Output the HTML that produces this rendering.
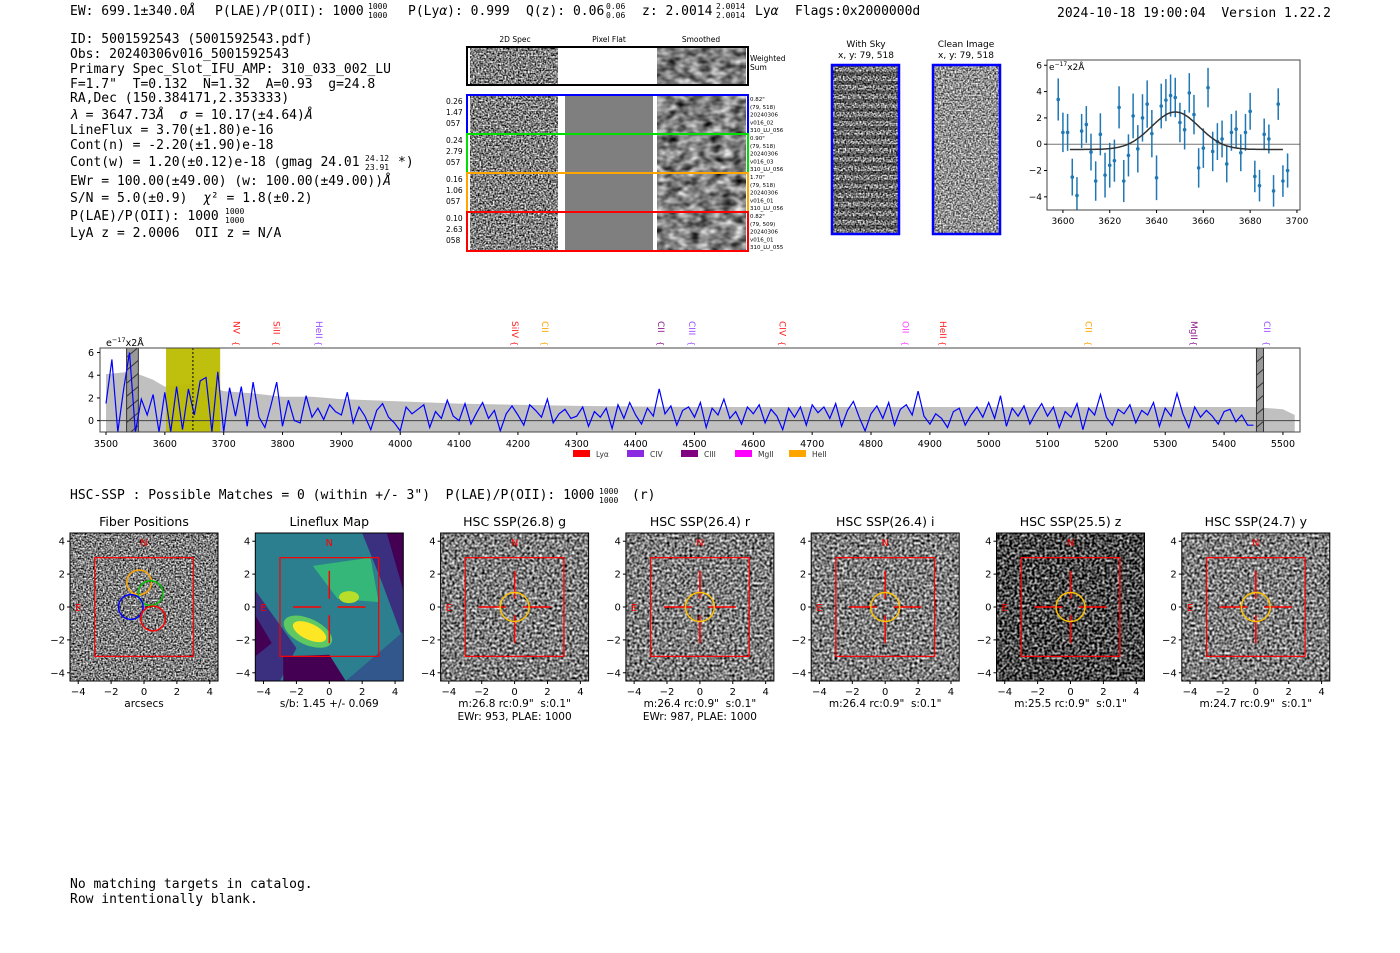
<!DOCTYPE html>
<html><head><meta charset="utf-8">
<style>
html,body{margin:0;padding:0;background:#fff;}
svg{display:block;}
.mono{font-family:"DejaVu Sans Mono","Liberation Mono",monospace;white-space:pre;}
.sans{font-family:"DejaVu Sans","Liberation Sans",sans-serif;}
</style></head>
<body>
<svg id="fig" width="1400" height="953" viewBox="0 0 1400 953" xmlns="http://www.w3.org/2000/svg">
<defs>
 <filter id="noise" x="0" y="0" width="100%" height="100%" color-interpolation-filters="sRGB">
  <feTurbulence type="fractalNoise" baseFrequency="0.6" numOctaves="1" seed="4"/>
  <feColorMatrix type="saturate" values="0"/>
  <feComponentTransfer><feFuncR type="linear" slope="2.6" intercept="-0.8"/><feFuncG type="linear" slope="2.6" intercept="-0.8"/><feFuncB type="linear" slope="2.6" intercept="-0.8"/><feFuncA type="linear" slope="0" intercept="1"/></feComponentTransfer>
 </filter>
 <filter id="noiseDark" x="0" y="0" width="100%" height="100%" color-interpolation-filters="sRGB">
  <feTurbulence type="fractalNoise" baseFrequency="0.4" numOctaves="1" seed="9"/>
  <feColorMatrix type="saturate" values="0"/>
  <feComponentTransfer><feFuncR type="linear" slope="2.5" intercept="-0.95"/><feFuncG type="linear" slope="2.5" intercept="-0.95"/><feFuncB type="linear" slope="2.5" intercept="-0.95"/><feFuncA type="linear" slope="0" intercept="1"/></feComponentTransfer>
 </filter>
 <filter id="noisePix" x="0" y="0" width="100%" height="100%" color-interpolation-filters="sRGB">
  <feTurbulence type="fractalNoise" baseFrequency="0.4" numOctaves="1" seed="2"/>
  <feColorMatrix type="saturate" values="0"/>
  <feComponentTransfer><feFuncR type="linear" slope="2.2" intercept="-0.6"/><feFuncG type="linear" slope="2.2" intercept="-0.6"/><feFuncB type="linear" slope="2.2" intercept="-0.6"/><feFuncA type="linear" slope="0" intercept="1"/></feComponentTransfer>
 </filter>
 <filter id="smooth" x="0" y="0" width="100%" height="100%" color-interpolation-filters="sRGB">
  <feTurbulence type="fractalNoise" baseFrequency="0.09 0.14" numOctaves="2" seed="7"/>
  <feColorMatrix type="saturate" values="0"/>
  <feComponentTransfer><feFuncR type="linear" slope="1.6" intercept="-0.3"/><feFuncG type="linear" slope="1.6" intercept="-0.3"/><feFuncB type="linear" slope="1.6" intercept="-0.3"/><feFuncA type="linear" slope="0" intercept="1"/></feComponentTransfer>
 </filter>
 <pattern id="hatch" width="10" height="10" patternUnits="userSpaceOnUse" patternTransform="rotate(-40)">
  <rect width="10" height="10" fill="#999"/><line x1="0" y1="5" x2="10" y2="5" stroke="#333" stroke-width="1"/>
 </pattern>
 <pattern id="stripes" width="8" height="9" patternUnits="userSpaceOnUse">
  <rect width="8" height="4" fill="#000" opacity="0.35"/>
 </pattern>
</defs>

<!-- header -->
<g class="mono" font-size="13">
 <text x="70" y="15">EW: 699.1±340.0<tspan font-style="italic">Å</tspan></text>
 <text x="215" y="15">P(LAE)/P(OII): 1000</text>
 <text x="368" y="9" font-size="8">1000</text><text x="368" y="18" font-size="8">1000</text>
 <text x="408" y="15">P(Ly<tspan font-style="italic">α</tspan>): 0.999</text>
 <text x="526" y="15">Q(z): 0.06</text>
 <text x="606" y="9" font-size="8">0.06</text><text x="606" y="18" font-size="8">0.06</text>
 <text x="642" y="15">z: 2.0014</text>
 <text x="716" y="9" font-size="8">2.0014</text><text x="716" y="18" font-size="8">2.0014</text>
 <text x="755" y="15">Ly<tspan font-style="italic">α</tspan></text>
 <text x="795" y="15">Flags:0x2000000d</text>
 <text x="1057" y="17">2024-10-18 19:00:04&#160; Version 1.22.2</text>
</g>

<!-- info block -->
<g class="mono" font-size="13">
 <text x="70" y="43">ID: 5001592543 (5001592543.pdf)</text>
 <text x="70" y="58">Obs: 20240306v016_5001592543</text>
 <text x="70" y="73">Primary Spec_Slot_IFU_AMP: 310_033_002_LU</text>
 <text x="70" y="88">F=1.7"&#160; T=0.132&#160; N=1.32&#160; A=0.93&#160; g=24.8</text>
 <text x="70" y="102">RA,Dec (150.384171,2.353333)</text>
 <text x="70" y="119"><tspan font-style="italic">λ</tspan> = 3647.73<tspan font-style="italic">Å</tspan>&#160; <tspan font-style="italic">σ</tspan> = 10.17(±4.64)<tspan font-style="italic">Å</tspan></text>
 <text x="70" y="134">LineFlux = 3.70(±1.80)e-16</text>
 <text x="70" y="149">Cont(n) = -2.20(±1.90)e-18</text>
 <text x="70" y="166">Cont(w) = 1.20(±0.12)e-18 (gmag 24.01</text>
 <text x="365" y="161" font-size="8">24.12</text><text x="365" y="170" font-size="8">23.91</text>
 <text x="398" y="166">*)</text>
 <text x="70" y="185">EWr = 100.00(±49.00) (w: 100.00(±49.00))<tspan font-style="italic">Å</tspan></text>
 <text x="70" y="202">S/N = 5.0(±0.9)&#160; <tspan font-style="italic">χ</tspan>² = 1.8(±0.2)</text>
 <text x="70" y="220">P(LAE)/P(OII): 1000</text>
 <text x="225" y="214" font-size="8">1000</text><text x="225" y="223" font-size="8">1000</text>
 <text x="70" y="237">LyA z = 2.0006&#160; OII z = N/A</text>
</g>

<!-- 2D spectra cutouts -->
<g class="sans">
 <text x="515" y="42" font-size="7.5" text-anchor="middle">2D Spec</text>
 <text x="609" y="42" font-size="7.5" text-anchor="middle">Pixel Flat</text>
 <text x="701" y="42" font-size="7.5" text-anchor="middle">Smoothed</text>
 <rect x="470" y="48" width="88" height="36" filter="url(#noise)"/>
 <rect x="657" y="48" width="89" height="36" filter="url(#smooth)"/>
 <rect x="467" y="47" width="281" height="38" fill="none" stroke="#000" stroke-width="2"/>
 <text x="750" y="61" font-size="7.5">Weighted</text><text x="750" y="70" font-size="7.5">Sum</text>
 <g id="rows"></g>
 <text x="866" y="47" font-size="9" text-anchor="middle">With Sky</text>
 <text x="866" y="58" font-size="9" text-anchor="middle">x, y: 79, 518</text>
 <text x="966" y="47" font-size="9" text-anchor="middle">Clean Image</text>
 <text x="966" y="58" font-size="9" text-anchor="middle">x, y: 79, 518</text>
 <rect x="832" y="65" width="67" height="169" filter="url(#noise)"/>
 <rect x="832" y="65" width="67" height="169" fill="url(#stripes)"/>
 <rect x="832" y="65" width="67" height="169" fill="none" stroke="#00f" stroke-width="2.5"/>
 <rect x="933" y="65" width="67" height="169" filter="url(#noise)" opacity="0.85"/>
 <rect x="933" y="65" width="67" height="169" fill="none" stroke="#00f" stroke-width="2.5"/>
</g>

<g id="fitplot"></g>
<g id="spec"></g>

<g class="mono" font-size="13">
<text x="70" y="499">HSC-SSP : Possible Matches = 0 (within +/- 3")&#160; P(LAE)/P(OII): 1000</text>
<text x="599" y="494" font-size="8">1000</text><text x="599" y="503" font-size="8">1000</text>
<text x="632" y="499">(r)</text>
</g>

<g id="panels"></g>

<g class="mono" font-size="13">
<text x="70" y="888">No matching targets in catalog.</text>
<text x="70" y="903">Row intentionally blank.</text>
</g>
</svg>

<script>
const NS="http://www.w3.org/2000/svg";
function mk(tag,attrs,parent){const e=document.createElementNS(NS,tag);for(const k in attrs)e.setAttribute(k,attrs[k]);if(parent)parent.appendChild(e);return e;}
function txt(parent,x,y,s,attrs){const t=mk('text',Object.assign({x:x,y:y,class:'sans'},attrs||{}),parent);t.textContent=s;return t;}

/* ---------- 2D spectra rows ---------- */
const rowColors=["#0000ff","#00e000","#ffa500","#ff0000"];
const rowLeft=[["0.26","1.47","057"],["0.24","2.79","057"],["0.16","1.06","057"],["0.10","2.63","058"]];
const rowRight=[["0.82\"","(79, 518)","20240306","v016_02","310_LU_056"],["0.90\"","(79, 518)","20240306","v016_03","310_LU_056"],["1.70\"","(79, 518)","20240306","v016_01","310_LU_056"],["0.82\"","(79, 509)","20240306","v016_01","310_LU_055"]];
(function(){
 const g=document.getElementById('rows');
 for(let i=0;i<4;i++){
  const y=95+i*39;
  mk('rect',{x:470,y:y+1,width:88,height:37,filter:'url(#noise)'},g);
  mk('rect',{x:565,y:y+1,width:88,height:37,fill:'#7f7f7f'},g);
  mk('rect',{x:657,y:y+1,width:89,height:37,filter:'url(#smooth)'},g);
  const r=mk('rect',{x:467,y:y,width:281,height:39,fill:'none',stroke:rowColors[i],'stroke-width':2},g);
  
  
  rowLeft[i].forEach((s,k)=>txt(g,446,y+9+k*11,s,{'font-size':7.5}));
  rowRight[i].forEach((s,k)=>txt(g,750,y+6+k*7.8,s,{'font-size':5.5}));
 }
})();

/* ---------- line fit plot ---------- */
const fitWave=[3598,3600,3602,3604,3606,3608,3610,3612,3614,3616,3618,3620,3622,3624,3626,3628,3630,3632,3634,3636,3638,3640,3642,3644,3646,3648,3650,3652,3654,3656,3658,3660,3662,3664,3666,3668,3670,3672,3674,3676,3678,3680,3682,3684,3686,3688,3690,3692,3694,3696];
const fitFlux=[3.4,0.9,0.9,-2.5,-3.9,1.0,1.5,-0.6,-2.8,0.75,-2.35,-1.6,-1.25,2.8,-2.8,-0.85,2.15,-0.35,2.0,3.05,0.8,-2.55,2.9,3.35,3.7,3.55,1.65,1.1,3.9,2.25,-1.8,-0.3,4.3,-0.55,0.2,0.4,-1.5,0.9,1.15,-0.65,0.9,2.5,-2.45,-3.15,0.75,0.4,-3.55,3.05,-2.8,-2.0];
const fitErr=[1.6,1.5,1.4,1.4,1.4,1.3,1.4,1.4,1.5,1.6,1.7,1.7,1.6,1.6,1.6,1.6,1.7,1.8,1.8,1.8,1.8,1.7,1.7,1.6,1.6,1.5,1.5,1.5,1.5,1.5,1.5,1.5,1.5,1.5,1.4,1.4,1.4,1.4,1.4,1.4,1.4,1.4,1.2,1.2,1.2,1.1,1.2,1.2,1.2,1.3];
const fitModel={mu:3648,sigma:10.2,amp:2.85,base:-0.4,start:3603,end:3694};
const fitXTicks=[3600,3620,3640,3660,3680,3700];
const fitYTicks=[-4,-2,0,2,4,6];
(function(){
 const g=document.getElementById('fitplot');
 const L=1047,R=1300,T=60,B=210, x0=3593.2,x1=3701.3,y0=-5.0,y1=6.4;
 const X=w=>L+(w-x0)/(x1-x0)*(R-L), Y=v=>B-(v-y0)/(y1-y0)*(B-T);
 const cp=mk('clipPath',{id:'fitclip'},g);mk('rect',{x:L,y:T,width:R-L,height:B-T},cp);
 const inner=mk('g',{'clip-path':'url(#fitclip)'},g);
 mk('line',{x1:L,x2:R,y1:Y(0),y2:Y(0),stroke:'#777','stroke-width':1},inner);
 fitWave.forEach((w,i)=>{
  const e=mk('line',{x1:X(w),x2:X(w),y1:Y(fitFlux[i]-fitErr[i]),y2:Y(fitFlux[i]+fitErr[i]),stroke:'#1f77b4','stroke-width':1.5},inner);
  
  
  const c=mk('circle',{cx:X(w),cy:Y(fitFlux[i]),r:1.8,fill:'#1f77b4'},inner);
  
  
 });
 let d='';
 for(let w=fitModel.start;w<=fitModel.end;w+=0.5){const v=fitModel.base+fitModel.amp*Math.exp(-0.5*Math.pow((w-fitModel.mu)/fitModel.sigma,2));d+=(d?'L':'M')+X(w).toFixed(1)+','+Y(v).toFixed(1);}
 const m=mk('path',{d:d,fill:'none',stroke:'#333','stroke-width':1.5},inner);
 
 
 mk('rect',{x:L,y:T,width:R-L,height:B-T,fill:'none',stroke:'#444','stroke-width':1},g);
 fitXTicks.forEach(t=>{mk('line',{x1:X(t),x2:X(t),y1:B,y2:B+3,stroke:'#000'},g);txt(g,X(t),B+14,String(t),{'font-size':9,'text-anchor':'middle'});});
 fitYTicks.forEach(t=>{mk('line',{x1:L-3,x2:L,y1:Y(t),y2:Y(t),stroke:'#000'},g);txt(g,L-5,Y(t)+3,t<0?'−'+(-t):String(t),{'font-size':9,'text-anchor':'end'});});
 const u=txt(g,L+2,T+10,'e',{'font-size':9});
 mk('tspan',{dy:-4,'font-size':6},u).textContent='−17';
 mk('tspan',{dy:4},u).textContent='x2Å';
})();

/* ---------- full spectrum ---------- */
const specStart=3500, specStep=10;
const specFlux=[1.5,5.4,-1,2.8,6.0,-1,1.9,0.5,2.3,-1,
2.5,-1,3.0,-0.8,2.8,0.5,3.5,3.8,-1,4.3,
-1,2.9,0.4,3.0,-0.5,3.4,0.3,-0.6,1.3,3.4,
-0.5,1.8,0.0,-0.2,2.2,0.3,1.1,0.1,1.4,0.8,
0.5,2.5,-0.2,1.2,0.4,-0.8,0.9,1.5,0.3,-0.2,
-0.9,1.2,0.6,1.0,1.4,-0.6,0.8,0.2,1.8,0.4,
0.0,1.5,-0.3,0.7,1.6,0.2,0.9,-0.9,0.6,1.3,
0.5,-0.4,1.4,0.9,0.3,1.9,-0.2,0.6,1.0,0.2,
0.4,1.2,-0.5,0.8,0.3,1.1,-0.7,1.4,0.2,1.6,
0.5,-0.3,1.1,0.4,2.8,0.6,1.3,-0.4,0.9,1.2,
0.3,1.6,-0.6,1.1,0.5,1.9,0.2,0.8,-0.3,1.2,
0.6,1.4,-0.2,1.0,0.4,-0.8,1.1,0.3,1.2,-0.4,
1.4,0.7,1.2,0.2,1.5,-0.5,0.9,1.7,0.3,-0.9,
0.6,1.3,0.2,1.6,-0.4,1.0,1.4,0.5,2.6,0.4,
-0.3,0.6,0.2,-0.6,0.8,1.1,-0.4,0.5,1.2,0.3,
1.6,0.2,2.2,-0.5,1.1,0.4,1.3,-0.3,0.7,1.5,
0.4,1.2,-0.6,0.8,0.3,1.5,-0.8,1.1,0.5,2.3,
0.3,-0.4,1.0,0.6,1.4,-0.2,0.9,0.5,1.6,-0.5,
1.1,0.4,2.4,0.6,-0.6,1.2,0.3,0.9,0.4,-0.3,
0.8,1.0,-0.1,0.5,-0.4,-0.4];
const errWave=[3500,3520,3540,3560,3580,3600,3630,3660,3700,3750,3800,3850,3900,3950,4000,4100,4200,4300,4500,4700,4900,5100,5300,5450,5500,5520];
const errFlux=[4.1,4.2,4.3,4.0,3.6,3.0,3.2,3.3,2.6,2.4,2.1,2.1,1.9,1.8,1.7,1.5,1.4,1.3,1.2,1.2,1.2,1.2,1.2,1.2,1.0,0.5];
const specXTicks=[3500,3600,3700,3800,3900,4000,4100,4200,4300,4400,4500,4600,4700,4800,4900,5000,5100,5200,5300,5400,5500];
const specYTicks=[0,2,4,6];
const lineNames=["NV","SiII","HeII","SiIV","CII","CII","CIII","CIV","OII","HeII","CII","MgII","CII"];
const lineWaves=[3722,3790,3862,4195,4246,4443,4496,4650,4859,4922,5170,5349,5473];
const lineColors=["#ff2020","#ff2020","#9b4dff","#ff2020","#ffa500","#8b1a8b","#9b4dff","#ff2020","#ff40ff","#ff2020","#ffa500","#8b1a8b","#9b4dff"];
const legendNames=["Lyα","CIV","CIII","MgII","HeII"];
const legendColors=["#ff0000","#8a2be2","#800080","#ff00ff","#ffa500"];
(function(){
 const g=document.getElementById('spec');
 const L=100,R=1300,T=348,B=432, x0=3489.8,x1=5529,y0=-1.0,y1=6.4;
 const X=w=>L+(w-x0)/(x1-x0)*(R-L), Y=v=>B-(v-y0)/(y1-y0)*(B-T);
 const cp=mk('clipPath',{id:'specclip'},g);mk('rect',{x:L,y:T,width:R-L,height:B-T},cp);
 const inner=mk('g',{'clip-path':'url(#specclip)'},g);
 let d='M'+X(errWave[0])+','+Y(-1);
 errWave.forEach((w,i)=>{d+='L'+X(w).toFixed(1)+','+Y(errFlux[i]).toFixed(1);});
 d+='L'+X(errWave[errWave.length-1])+','+Y(-1)+'Z';
 const band=mk('path',{d:d,fill:'#c0c0c0'},inner);
 
 
 const yw=mk('rect',{x:X(3602),y:T,width:X(3694)-X(3602),height:B-T,fill:'#bcbd00',opacity:0.95},inner);
 
 
 [[3535,3555],[5455,5467]].forEach(([a,b])=>{
  const h=mk('rect',{x:X(a),y:T,width:X(b)-X(a),height:B-T,fill:'url(#hatch)',stroke:'#333','stroke-width':1},inner);
  
  
 });
 mk('line',{x1:L,x2:R,y1:Y(0),y2:Y(0),stroke:'#444','stroke-width':1},inner);
 let p='';
 specFlux.forEach((v,i)=>{const w=specStart+i*specStep;p+=(p?'L':'M')+X(w).toFixed(1)+','+Y(v).toFixed(1);});
 const sl=mk('path',{d:p,fill:'none',stroke:'#0000ff','stroke-width':1.2},inner);
 
 
 mk('line',{x1:X(3647.7),x2:X(3647.7),y1:T,y2:B,stroke:'#000','stroke-width':1,'stroke-dasharray':'2,2'},inner);
 mk('rect',{x:L,y:T,width:R-L,height:B-T,fill:'none',stroke:'#444','stroke-width':1},g);
 specXTicks.forEach(t=>{mk('line',{x1:X(t),x2:X(t),y1:B,y2:B+3,stroke:'#000'},g);txt(g,X(t),B+15,String(t),{'font-size':9.5,'text-anchor':'middle'});});
 specYTicks.forEach(t=>{mk('line',{x1:L-3,x2:L,y1:Y(t),y2:Y(t),stroke:'#000'},g);txt(g,L-6,Y(t)+3.5,String(t),{'font-size':9.5,'text-anchor':'end'});});
 const u=txt(g,106,346,'e',{'font-size':9.5});
 mk('tspan',{dy:-4,'font-size':6.5},u).textContent='−17';
 mk('tspan',{dy:4},u).textContent='x2Å';
 lineNames.forEach((n,i)=>{
  const x=X(lineWaves[i]);
  const t=txt(g,0,0,n,{'font-size':9,fill:lineColors[i],transform:`translate(${x-3},321) rotate(90)`});
  
  
  txt(g,0,0,'{',{'font-size':8,fill:lineColors[i],transform:`translate(${x-3},341) rotate(90)`});
 });
 legendNames.forEach((n,i)=>{
  const lx=573+i*54;
  const r=mk('rect',{x:lx,y:450,width:17,height:7,fill:legendColors[i]},g);
  
  
  txt(g,lx+23,457,n,{'font-size':7.5,fill:'#333'});
 });
})();

/* ---------- imaging panels ---------- */
const panelTitles=["Fiber Positions","Lineflux Map","HSC SSP(26.8) g","HSC SSP(26.4) r","HSC SSP(26.4) i","HSC SSP(25.5) z","HSC SSP(24.7) y"];
const panelSub1=["arcsecs","s/b: 1.45 +/- 0.069","m:26.8 rc:0.9\"\u00a0 s:0.1\"","m:26.4 rc:0.9\"\u00a0 s:0.1\"","m:26.4 rc:0.9\"\u00a0 s:0.1\"","m:25.5 rc:0.9\"\u00a0 s:0.1\"","m:24.7 rc:0.9\"\u00a0 s:0.1\""];
const panelSub2=["","","EWr: 953, PLAE: 1000","EWr: 987, PLAE: 1000","","",""];
const panelTicks=[-4,-2,0,2,4];
const fiberX=[-0.3,0.4,-0.8,0.55];
const fiberY=[1.5,0.85,0.0,-0.7];
const fiberColors=["#ffa500","#00c000","#0000ff","#ff0000"];
(function(){
 const g=document.getElementById('panels');
 panelTitles.forEach((title,i)=>{
  const L=70+i*185.3, T=533, S=148;
  const X=v=>L+(v+4.5)/9*S, Y=v=>T+S-(v+4.5)/9*S;
  const pg=mk('g',{},g);
  
  
  const cid='pc'+i;const cp=mk('clipPath',{id:cid},pg);mk('rect',{x:L,y:T,width:S,height:S},cp);
  const inner=mk('g',{'clip-path':`url(#${cid})`},pg);
  if(i===1){
   mk('rect',{x:L,y:T,width:S,height:S,fill:'#2c7f8e'},inner);
   mk('polygon',{points:`${X(-4.5)},${Y(1)} ${X(-2)},${Y(-2.5)} ${X(-3)},${Y(-4.5)} ${X(-4.5)},${Y(-4.5)}`,fill:'#3b2f7f'},inner);
   mk('polygon',{points:`${X(-4.5)},${Y(-0.5)} ${X(-3.5)},${Y(-2.2)} ${X(-4.5)},${Y(-3)}`,fill:'#440154'},inner);
   mk('polygon',{points:`${X(-2.8)},${Y(-3)} ${X(0)},${Y(-2.9)} ${X(1)},${Y(-4.5)} ${X(-2.8)},${Y(-4.5)}`,fill:'#440154'},inner);
   mk('polygon',{points:`${X(2)},${Y(4.5)} ${X(4.5)},${Y(4.5)} ${X(4.5)},${Y(-2)} ${X(3.2)},${Y(1.5)}`,fill:'#3b2f7f'},inner);
   mk('polygon',{points:`${X(3.5)},${Y(4.5)} ${X(4.5)},${Y(4.5)} ${X(4.5)},${Y(1)}`,fill:'#440154'},inner);
   mk('polygon',{points:`${X(1)},${Y(-4.5)} ${X(4.5)},${Y(-1.5)} ${X(4.5)},${Y(-4.5)}`,fill:'#31578c'},inner);
   mk('polygon',{points:`${X(-1)},${Y(2.5)} ${X(2.5)},${Y(3)} ${X(3)},${Y(0.3)} ${X(0.5)},${Y(0.5)}`,fill:'#35b779'},inner);
   mk('ellipse',{cx:X(-1.3),cy:Y(-1.5),rx:26,ry:13,fill:'#5ec962',transform:`rotate(25 ${X(-1.3)} ${Y(-1.5)})`},inner);
   mk('ellipse',{cx:X(-1.2),cy:Y(-1.5),rx:18,ry:8,fill:'#fde725',transform:`rotate(25 ${X(-1.2)} ${Y(-1.5)})`},inner);
   mk('ellipse',{cx:X(1.2),cy:Y(0.6),rx:10,ry:6,fill:'#b8de29'},inner);
  } else {
   const f = i===5?'url(#noiseDark)':(i===0?'url(#noise)':'url(#noisePix)');
   mk('rect',{x:L,y:T,width:S,height:S,filter:f},inner);
  }
  mk('rect',{x:L,y:T,width:S,height:S,fill:'none',stroke:'#000','stroke-width':1},pg);
  mk('rect',{x:X(-3),y:Y(3),width:X(3)-X(-3),height:Y(-3)-Y(3),fill:'none',stroke:'#ff0000','stroke-width':1.2},pg);
  if(i>0){
   [[-2.2,-0.5],[0.5,2.2]].forEach(([a,b])=>{
    mk('line',{x1:X(a),x2:X(b),y1:Y(0),y2:Y(0),stroke:'#ff0000','stroke-width':1.5},pg);
    mk('line',{x1:X(0),x2:X(0),y1:Y(a),y2:Y(b),stroke:'#ff0000','stroke-width':1.5},pg);
   });
  }
  if(i>=2){
   const c=mk('circle',{cx:X(0),cy:Y(0),r:0.88*S/9,fill:'none',stroke:'#ffc000','stroke-width':1.5},pg);
   
   
  }
  if(i===0){
   fiberX.forEach((fx,k)=>{
    const c=mk('circle',{cx:X(fx),cy:Y(fiberY[k]),r:0.75*S/9,fill:'none',stroke:fiberColors[k],'stroke-width':1.5},pg);
    
    
   });
  }
  txt(pg,X(0),Y(3.7),'N',{'font-size':10,fill:'#ff0000','text-anchor':'middle'});
  txt(pg,X(-4),Y(0)+4,'E',{'font-size':10,fill:'#ff0000','text-anchor':'middle'});
  const tt=txt(pg,L+S/2,T-7,title,{'font-size':12.5,'text-anchor':'middle'});
  
  
  panelTicks.forEach(t=>{
   const lab=t<0?'−'+(-t):String(t);
   mk('line',{x1:X(t),x2:X(t),y1:T+S,y2:T+S+3,stroke:'#000'},pg);
   txt(pg,X(t),T+S+14,lab,{'font-size':10,'text-anchor':'middle'});
   mk('line',{x1:L-3,x2:L,y1:Y(t),y2:Y(t),stroke:'#000'},pg);
   txt(pg,L-5,Y(t)+3.5,lab,{'font-size':10,'text-anchor':'end'});
  });
  txt(pg,L+S/2,T+S+26,panelSub1[i],{'font-size':10.5,'text-anchor':'middle'});
  if(panelSub2[i]) txt(pg,L+S/2,T+S+39,panelSub2[i],{'font-size':10.5,'text-anchor':'middle'});
 });
})();
</script>
</body></html>
